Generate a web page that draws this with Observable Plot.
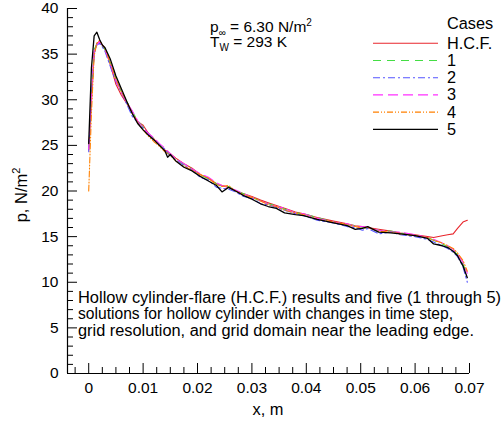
<!DOCTYPE html>
<html><head><meta charset="utf-8">
<script src="https://cdn.jsdelivr.net/npm/d3@7"></script>
<script src="https://cdn.jsdelivr.net/npm/@observablehq/plot@0.6"></script>
<style>
body{margin:0;background:#fff}
svg{font-family:"Liberation Sans",Arial,sans-serif}
</style>
</head><body><div id="chart"></div>
<script>
// x positions (m) shared by all six series
const xGrid = [0, 0.0005, 0.001, 0.0015, 0.002, 0.0025, 0.003, 0.004, 0.005, 0.006, 0.007, 0.008, 0.009, 0.010, 0.011, 0.012, 0.013, 0.014, 0.0145, 0.015, 0.016, 0.0175, 0.019, 0.0205, 0.022, 0.0235, 0.0245, 0.0257, 0.027, 0.0285, 0.030, 0.0316, 0.033, 0.0345, 0.036, 0.038, 0.0395, 0.042, 0.045, 0.0475, 0.049, 0.0503, 0.0513, 0.0533, 0.0555, 0.0573, 0.060, 0.0623, 0.0634, 0.065, 0.066, 0.067, 0.0678, 0.0688, 0.0696];
// pressure, N/m^2
const pHCF   = [24.5, 30.0, 35.2, 36.2, 36.4, 36.0, 35.6, 33.8, 31.7, 30.5, 29.6, 28.6, 27.6, 27.2, 26.3, 25.7, 25.0, 24.5, 24.3, 24.1, 23.6, 23.0, 22.5, 21.8, 21.4, 20.8, 20.6, 20.4, 20.0, 19.7, 19.4, 19.0, 18.7, 18.4, 18.1, 17.7, 17.5, 17.1, 16.7, 16.4, 16.2, 16.1, 16.0, 15.8, 15.6, 15.4, 15.2, 15.0, 14.9, 15.1, 15.2, 15.3, 15.9, 16.6, 16.8];
const pCase1 = [24.8, 30.5, 35.5, 36.1, 36.3, 35.9, 35.5, 34.0, 32.3, 30.9, 29.8, 28.7, 27.7, 27.0, 26.3, 25.7, 25.1, 24.5, 24.2, 24.0, 23.5, 22.9, 22.4, 21.8, 21.3, 20.8, 20.5, 20.5, 20.0, 19.7, 19.3, 18.9, 18.6, 18.4, 18.0, 17.6, 17.5, 17.1, 16.6, 16.3, 16.2, 16.0, 15.9, 15.7, 15.6, 15.4, 15.1, 14.9, 14.6, 14.2, 13.9, 13.5, 13.0, 12.0, 10.8];
const pCase2 = [24.3, 30.0, 35.0, 36.0, 36.2, 35.8, 35.3, 33.6, 32.0, 30.8, 29.5, 28.2, 27.5, 26.9, 26.2, 25.6, 25.0, 24.6, 24.1, 23.9, 23.4, 22.8, 22.3, 21.5, 21.2, 20.4, 20.3, 20.2, 19.9, 19.4, 19.2, 18.6, 18.5, 18.2, 17.9, 17.5, 17.3, 16.8, 16.5, 16.1, 16.0, 15.7, 15.9, 15.3, 15.5, 15.2, 15.0, 14.7, 14.4, 14.0, 13.7, 13.3, 12.8, 11.7, 10.0];
const pCase3 = [24.6, 30.3, 35.3, 36.0, 36.4, 36.0, 35.5, 33.9, 32.1, 30.8, 29.7, 28.8, 27.7, 26.9, 26.3, 25.8, 25.2, 24.7, 24.4, 24.1, 23.5, 23.0, 22.4, 21.9, 21.5, 20.9, 20.6, 20.4, 20.1, 19.7, 19.3, 18.9, 18.6, 18.3, 18.1, 17.6, 17.5, 17.0, 16.6, 16.4, 16.1, 16.1, 16.0, 15.7, 15.5, 15.5, 15.2, 14.9, 14.7, 14.3, 14.0, 13.6, 13.1, 12.2, 11.0];
const pCase4 = [20.0, 28.5, 34.8, 36.2, 36.5, 36.0, 35.6, 34.0, 32.3, 30.9, 29.8, 28.5, 27.5, 26.7, 26.0, 25.4, 24.9, 24.3, 24.1, 23.9, 23.3, 22.7, 22.3, 21.8, 21.4, 20.7, 20.5, 20.6, 20.0, 19.6, 19.3, 18.9, 18.5, 18.3, 17.9, 17.6, 17.4, 16.9, 16.6, 16.3, 16.1, 15.9, 16.0, 15.6, 15.5, 15.3, 15.1, 14.9, 14.6, 14.3, 14.0, 13.7, 13.2, 12.4, 11.2];
const pCase5 = [25.2, 33.5, 37.0, 37.4, 36.6, 36.0, 35.7, 34.4, 32.6, 31.2, 29.8, 28.5, 27.4, 26.7, 26.1, 25.6, 25.0, 24.4, 23.7, 24.0, 23.3, 22.6, 22.2, 21.6, 21.1, 20.6, 19.9, 20.4, 20.0, 19.5, 19.1, 18.6, 18.3, 18.1, 17.6, 17.4, 17.3, 16.9, 16.5, 16.2, 15.8, 15.9, 16.1, 15.5, 15.4, 15.3, 15.1, 14.8, 14.2, 14.0, 13.8, 13.4, 12.9, 11.8, 10.5];

const seriesNames  = ["H.C.F.", "1", "2", "3", "4", "5"];
const seriesValues = [pHCF, pCase1, pCase2, pCase3, pCase4, pCase5];
const seriesColors = ["#e8262c", "#44dd44", "#5454ff", "#ff30ff", "#ff8000", "#000000"];
const seriesDash   = [null, "8,6", "7,3,2,3", "10,5", "6,2,1,2,1,2", null];
const seriesWidth  = [1.1, 1.1, 1.1, 1.1, 1.1, 1.3];

const xMajor = [0, 0.01, 0.02, 0.03, 0.04, 0.05, 0.06, 0.07];
const xMajorLabels = ["0", "0.01", "0.02", "0.03", "0.04", "0.05", "0.06", "0.07"];
const xMinor = [-0.0025, 0.0025, 0.005, 0.0075, 0.0125, 0.015, 0.0175, 0.0225, 0.025, 0.0275, 0.0325, 0.035, 0.0375, 0.0425, 0.045, 0.0475, 0.0525, 0.055, 0.0575, 0.0625, 0.065, 0.0675];
const yMajor = [0, 5, 10, 15, 20, 25, 30, 35, 40];
const yMajorLabels = ["0", "5", "10", "15", "20", "25", "30", "35", "40"];
const yMinor = [1,2,3,4,6,7,8,9,11,12,13,14,16,17,18,19,21,22,23,24,26,27,28,29,31,32,33,34,36,37,38,39];

const xDomain = [-0.0039, 0.07];
const yDomain = [0, 40];

const captionLines = [
  "Hollow cylinder-flare (H.C.F.) results and five (1 through 5)",
  "solutions for hollow cylinder with changes in time step,",
  "grid resolution, and grid domain near the leading edge."
];
const captionWidths = [423, 375, 396];

const lineMarks = seriesNames.map((name, i) => {
  const rows = xGrid.map((x, j) => ({x, p: seriesValues[i][j]}));
  return Plot.line(rows, {x: "x", y: "p", stroke: seriesColors[i], strokeWidth: seriesWidth[i], strokeDasharray: seriesDash[i] || undefined});
});

const chart = Plot.plot({
  width: 503, height: 423,
  marginLeft: 67, marginRight: 34, marginTop: 8, marginBottom: 50,
  style: {fontFamily: '"Liberation Sans", Arial, sans-serif', fontSize: "15.5px", color: "#000", background: "#fff"},
  x: {domain: xDomain},
  y: {domain: yDomain},
  marks: [
    // inward-pointing ticks: outward ticks shifted across the axis line
    Plot.axisY({ticks: yMinor, tickSize: 6, dx: 6, tickFormat: () => "", label: null}),
    Plot.axisY({ticks: yMajor, tickSize: 10, dx: 10, tickFormat: () => "", label: null}),
    Plot.axisY({ticks: yMajor, tickSize: 0, tickPadding: 9, tickFormat: d => yMajorLabels[yMajor.indexOf(d)], label: null, fontSize: 15.5}),
    Plot.axisX({ticks: xMinor, tickSize: 6, dy: -6, tickFormat: () => "", label: null}),
    Plot.axisX({ticks: xMajor, tickSize: 10, dy: -10, tickFormat: () => "", label: null}),
    Plot.axisX({ticks: xMajor, tickSize: 0, tickPadding: 8, tickFormat: d => xMajorLabels[xMajor.indexOf(d)], label: null, fontSize: 15.5}),
    Plot.ruleX([xDomain[0]], {stroke: "#000", strokeWidth: 1.2}),
    Plot.ruleY([0], {stroke: "#000", strokeWidth: 1.2}),
    ...lineMarks
  ]
});

const svg = d3.select(chart);
const font = '"Liberation Sans", Arial, sans-serif';
const addText = (x, y, size = 16) => svg.append("text").attr("x", x).attr("y", y).attr("text-anchor", "start")
  .attr("font-size", size).attr("font-family", font).attr("fill", "#000");

// axis titles
addText(268, 415, 16.4).attr("text-anchor", "middle").text("x, m");
const yl = svg.append("text").attr("transform", "translate(27,195) rotate(-90)").attr("text-anchor", "middle")
  .attr("font-size", 16.5).attr("font-family", font);
yl.append("tspan").text("p, N/m");
yl.append("tspan").attr("dy", -7).attr("font-size", 11).text("2");

// conditions annotation
const a1 = addText(210, 31.5, 15.5);
a1.append("tspan").text("p");
a1.append("tspan").attr("dy", 4).attr("font-size", 10).text("∞");
a1.append("tspan").attr("dy", -4).text(" = 6.30 N/m");
a1.append("tspan").attr("dy", -6).attr("font-size", 10).text("2");
const a2 = addText(210, 46.5, 15.5);
a2.append("tspan").text("T");
a2.append("tspan").attr("dy", 4).attr("font-size", 10).text("W");
a2.append("tspan").attr("dy", -4).text(" = 293 K");

// legend
addText(447, 29, 16.3).text("Cases");
seriesNames.forEach((name, i) => {
  const yy = 43.3 + i * 17.2;
  svg.append("line").attr("x1", 373).attr("x2", 438).attr("y1", yy).attr("y2", yy)
    .attr("stroke", seriesColors[i]).attr("stroke-width", seriesWidth[i])
    .attr("stroke-dasharray", seriesDash[i]);
  addText(447, yy + 5.5, 16.3).text(name);
});

// caption inside plot
captionLines.forEach((t, i) => {
  addText(78, 302.5 + i * 16.6, 15.6).attr("textLength", captionWidths[i]).attr("lengthAdjust", "spacingAndGlyphs").text(t);
});

document.getElementById("chart").appendChild(chart);
</script>
</body></html>
